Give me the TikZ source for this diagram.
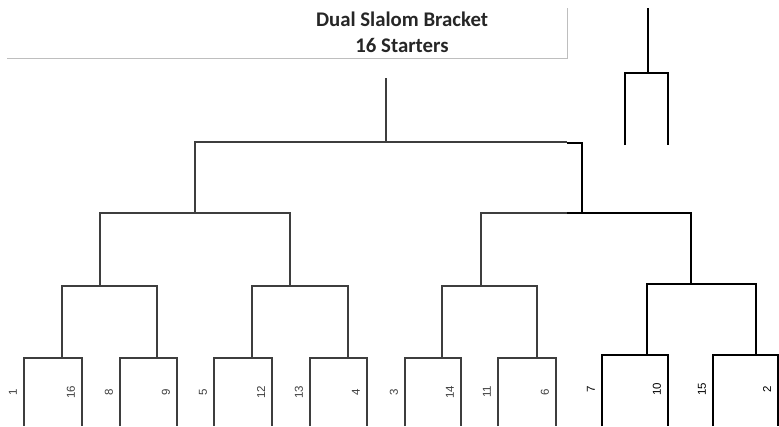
\documentclass[tikz,border=0pt]{standalone}
\usepackage{fontspec}
\setmainfont{Liberation Sans}
\newfontfamily\titlefont{Carlito}
\usepackage{tikz}
\definecolor{bline}{RGB}{62,62,62}
\definecolor{frameline}{RGB}{190,190,190}
\tikzset{
  oldline/.style={color=bline,line width=2pt},
  newline/.style={color=black,line width=2.5pt},
  seedlabel/.style={rotate=90,inner sep=0pt,font=\fontsize{11.5}{11.5}\selectfont},
  titletext/.style={anchor=base,inner sep=0pt,font=\titlefont\bfseries\fontsize{20.8}{21}\selectfont,color=black!85}
}

\begin{document}
\begin{tikzpicture}[line cap=butt,line join=miter,x=1pt,y=-1pt]
        \useasboundingbox (0,0) rectangle (779,426);
        % title box
        \draw [color=frameline,line width=1pt] (7,58) -- (567,58) -- (567,8);
        \node[titletext] (title) at (402,26) {Dual Slalom Bracket};
        \node[titletext] (starters) at (402,52) {16 Starters};
        % final
        \draw [newline] (648,8) -- (648,73);
        \draw [newline] (625,145) -- (625,73) -- (668,73) -- (668,145);
        % semi finals
        \draw [oldline] (386,78) -- (386,142);
        \draw [oldline] (195,213) -- (195,142) -- (567,142);
        \draw [newline] (567,143) -- (582,143) -- (582,213);
        % quarter finals
        \draw [oldline] (100,286) -- (100,213) -- (290,213) -- (290,286);
        \draw [oldline] (481,286) -- (481,213) -- (567,213);
        \draw [newline] (567,213) -- (691,213) -- (691,284);
        % second round
        \draw [oldline] (62,358) -- (62,286) -- (157,286) -- (157,358);
        \draw [oldline] (252,358) -- (252,286) -- (348,286) -- (348,358);
        \draw [oldline] (442,358) -- (442,286) -- (537,286) -- (537,358);
        \draw [newline] (647,355) -- (647,284) -- (756,284) -- (756,355);
        % first round
        \draw [oldline] (24,426) -- (24,358) -- (82,358) -- (82,426);
        \draw [oldline] (120,426) -- (120,358) -- (177,358) -- (177,426);
        \draw [oldline] (214,426) -- (214,358) -- (272,358) -- (272,426);
        \draw [oldline] (310,426) -- (310,358) -- (367,358) -- (367,426);
        \draw [oldline] (405,426) -- (405,358) -- (461,358) -- (461,426);
        \draw [oldline] (498,426) -- (498,358) -- (556,358) -- (556,426);
        \draw [newline] (602,426) -- (602,355) -- (668,355) -- (668,426);
        \draw [newline] (713,426) -- (713,355) -- (778,355) -- (778,426);
        % seeds
        \node[seedlabel,color=bline] (s1) at (13,392) {1};
        \node[seedlabel,color=bline] (s16) at (71,392) {16};
        \node[seedlabel,color=bline] (s8) at (109,392) {8};
        \node[seedlabel,color=bline] (s9) at (166,392) {9};
        \node[seedlabel,color=bline] (s5) at (203,392) {5};
        \node[seedlabel,color=bline] (s12) at (261,392) {12};
        \node[seedlabel,color=bline] (s13) at (299,392) {13};
        \node[seedlabel,color=bline] (s4) at (356,392) {4};
        \node[seedlabel,color=bline] (s3) at (394,392) {3};
        \node[seedlabel,color=bline] (s14) at (450,392) {14};
        \node[seedlabel,color=bline] (s11) at (487,392) {11};
        \node[seedlabel,color=bline] (s6) at (545,392) {6};
        \node[seedlabel] (s7) at (591,389) {7};
        \node[seedlabel] (s10) at (657,389) {10};
        \node[seedlabel] (s15) at (702,389) {15};
        \node[seedlabel] (s2) at (767,389) {2};
\end{tikzpicture}
\end{document}
